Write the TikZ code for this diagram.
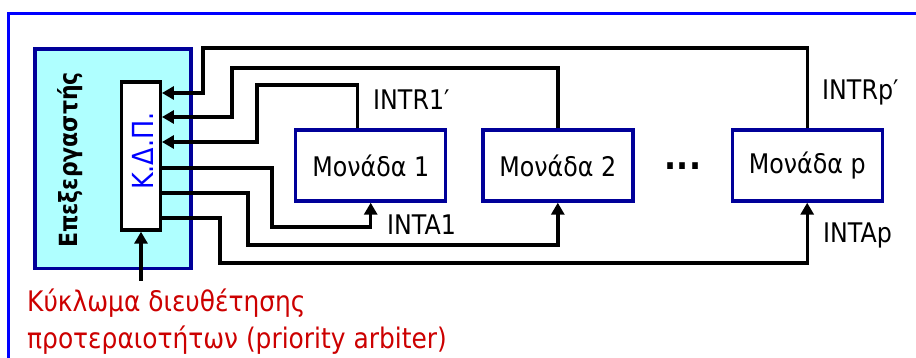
\documentclass[tikz,border=0pt]{standalone}
\usepackage{fontspec}
\setmainfont{DejaVu Sans}[FakeStretch=0.88]
\usetikzlibrary{arrows.meta}
\definecolor{frameblue}{RGB}{0,0,255}
\definecolor{navy}{RGB}{0,0,153}
\definecolor{procfill}{RGB}{175,255,255}
\definecolor{arbred}{RGB}{204,0,0}
\definecolor{kapblue}{RGB}{0,0,255}
\begin{document}
\begin{tikzpicture}[x=1pt,y=-1pt,
  conn/.style={line width=3.4pt, black},
  tip/.style={-{Triangle[length=12pt,width=13pt]}},
  unit/.style={draw=navy, line width=3.4pt, fill=white, minimum width=150pt,
    minimum height=71pt, inner sep=0pt, font=\fontsize{27}{30}\selectfont},
  lbl/.style={inner sep=0pt, font=\fontsize{27}{30}\selectfont, anchor=base west},
]
\useasboundingbox (0,0) rectangle (916,358);
\clip (0,0) rectangle (916,358);
\draw[frameblue, line width=3.4pt] (8.5,400) -- (8.5,13.5) -- (930,13.5);

\node[draw=navy, fill=procfill, line width=3.4pt, minimum width=156pt,
  minimum height=219.5pt, inner sep=0pt] (proc) at (113,158.75) {};
\node[rotate=90, inner sep=0pt, font=\fontsize{25}{28}\selectfont\bfseries]
  (proctxt) at (70,160) {Επεξεργαστής};
\node[draw=black, fill=white, line width=3.4pt, minimum width=38.5pt,
  minimum height=148pt, inner sep=0pt] (kap) at (141,156) {};
\node[rotate=90, inner sep=0pt, text=kapblue, font=\fontsize{29}{32}\selectfont]
  (kaptxt) at (142.5,151) {Κ.Δ.Π.};

\node[unit] (m1) at (370.7,165.5) {Μονάδα 1};
\node[unit] (m2) at (557.8,165.5) {Μονάδα 2};
\node[unit] (mp) at (807.2,165.5) {Μονάδα p};
\node[inner sep=0pt, anchor=base, font=\fontsize{36}{40}\selectfont\bfseries]
  (dots) at (683,169.5) {...};

% request lines (units -> controller)
\draw[conn,tip] (mp.north) |- (203,48) |- ([yshift=63pt]kap.east);
\draw[conn,tip] (m2.north) |- (232,68) |- ([yshift=39pt]kap.east);
\draw[conn,tip] ([xshift=-13pt]m1.north) |- (257,85) |- ([yshift=14pt]kap.east);
% acknowledge lines (controller -> units)
\draw[conn,tip] ([yshift=-12pt]kap.east) -| (272,227) -| (m1.south);
\draw[conn,tip] ([yshift=-37pt]kap.east) -| (248,245) -| (m2.south);
\draw[conn,tip] ([yshift=-62pt]kap.east) -| (220,263) -| (mp.south);

\node[lbl] (lr1) at (373,110) {INTR1′};
\node[lbl] (lrp) at (822,100) {INTRp′};
\node[lbl] (la1) at (387,235) {INTA1};
\node[lbl] (lap) at (823,243) {INTAp};

\node[inner sep=0pt, anchor=north west, align=left, text=arbred,
  font=\fontsize{28.3}{37}\selectfont] (arb) at (27,289)
  {Κύκλωμα διευθέτησης\\προτεραιοτήτων (priority arbiter)};
\coordinate (arbtop) at (141,281);
\draw[conn,tip] (arbtop) -- (kap.south);
\end{tikzpicture}
\end{document}
